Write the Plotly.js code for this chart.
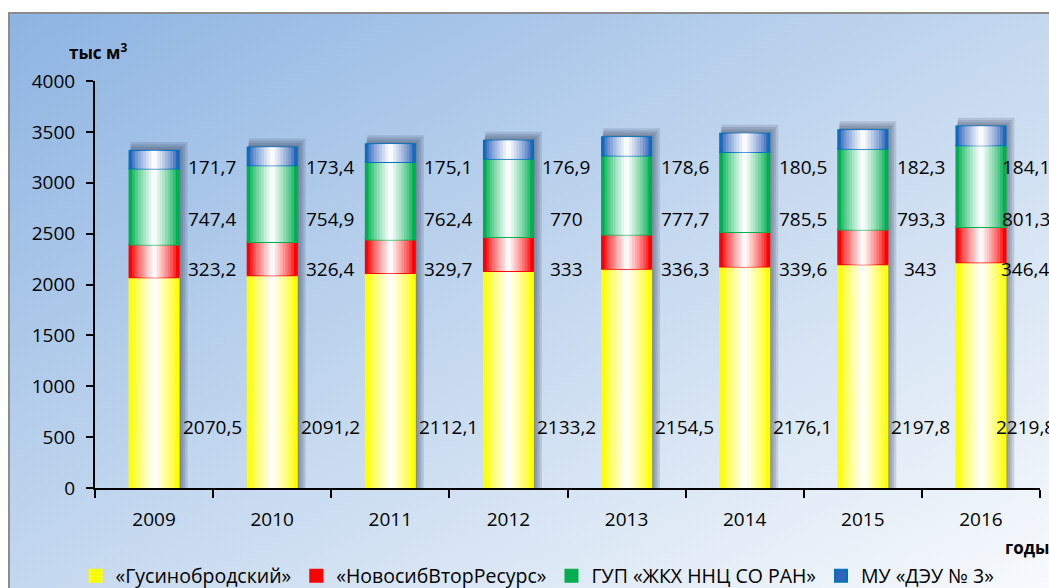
<!DOCTYPE html>
<html>
<head>
<meta charset="utf-8">
<script src="https://cdn.plot.ly/plotly-3.0.1.min.js"></script>
<style>
  html, body { margin: 0; padding: 0; width: 1049px; height: 588px; overflow: hidden; background: #ffffff; }
  #bg { position: absolute; left: 8px; top: 12px; width: 1041px; height: 576px;
        border-left: 2px solid #8c8c8c; border-top: 2px solid #8c8c8c;
        background: linear-gradient(to bottom right, #8db4e2 0%, #c4d8ef 50%, #f8fafd 100%); }
  #chart { position: absolute; left: 0; top: 0; width: 1049px; height: 588px; }
</style>
</head>
<body>
<div id="bg"></div>
<div id="chart"></div>
<script>
// ---- data ----
const years = ['2009', '2010', '2011', '2012', '2013', '2014', '2015', '2016'];
const gusinobrodsky = [2070.5, 2091.2, 2112.1, 2133.2, 2154.5, 2176.1, 2197.8, 2219.8];
const novosibvtor = [323.2, 326.4, 329.7, 333, 336.3, 339.6, 343, 346.4];
const gupZhkh = [747.4, 754.9, 762.4, 770, 777.7, 785.5, 793.3, 801.3];
const muDeu = [171.7, 173.4, 175.1, 176.9, 178.6, 180.5, 182.3, 184.1];
const seriesNames = ['«Гусинобродский»', '«НовосибВторРесурс»', 'ГУП «ЖКХ ННЦ СО РАН»', 'МУ «ДЭУ № 3»'];
const yTicks = [0, 500, 1000, 1500, 2000, 2500, 3000, 3500, 4000];

// ---- style ----
const FONT = '"Open Sans", "Noto Sans", "DejaVu Sans", sans-serif';
const seriesData = [gusinobrodsky, novosibvtor, gupZhkh, muDeu];
const edgeColors = [[255, 255, 0], [255, 0, 0], [0, 176, 80], [46, 100, 186]];
const lineColors = ['#ffff00', '#ff0000', '#00b050', '#0070c0'];
const W = 0.415;
const LAYERS = 9;
const labelRows = [600, 2150, 2640, 3150];

function mix(c, t) {
  const r = Math.round(c[0] + (255 - c[0]) * t);
  const g = Math.round(c[1] + (255 - c[1]) * t);
  const b = Math.round(c[2] + (255 - c[2]) * t);
  return 'rgb(' + r + ',' + g + ',' + b + ')';
}

// cumulative bases
const bases = [];
let run = years.map(() => 0);
seriesData.forEach(s => {
  bases.push(run.slice());
  run = run.map((v, i) => v + s[i]);
});
const totals = run;

const traces = [];
// soft shadow
for (let k = 4; k >= 1; k--) {
  traces.push({
    type: 'bar', x: years, y: totals.map(t => t + 22 * k), base: years.map(() => 0),
    width: W + 0.016 * k, offset: -W / 2 + 0.003 * k,
    marker: { color: 'rgba(50,60,90,0.16)', line: { width: 0 } },
    showlegend: false, hoverinfo: 'skip'
  });
}
seriesData.forEach((s, si) => {
  for (let k = 0; k < LAYERS; k++) {
    const t = k / (LAYERS - 1);
    const w = W * (1 - k / LAYERS);
    traces.push({
      type: 'bar', x: years, y: s, base: bases[si],
      width: w,
      name: seriesNames[si],
      legendgroup: 's' + si,
      showlegend: k === 0,
      marker: {
        color: mix(edgeColors[si], Math.pow(t, 0.8) * 0.97),
        line: k === 0 ? { color: lineColors[si], width: 2 } : { width: 0 }
      },
      hoverinfo: k === 0 ? 'x+y+name' : 'skip'
    });
  }
});

// value labels (x given as category index)
const annotations = [];
seriesData.forEach((s, si) => {
  s.forEach((v, i) => {
    annotations.push({
      x: i, y: labelRows[si], xref: 'x', yref: 'y',
      text: String(v).replace('.', ','), showarrow: false,
      xshift: i === years.length - 1 ? 45 : 58,
      font: { family: FONT, size: 19, color: '#000' }
    });
  });
});
annotations.push({
  xref: 'paper', yref: 'paper', x: 0.003, y: 1.072, xanchor: 'center', yanchor: 'middle',
  text: '<b>тыс м<sup>3</sup></b>', showarrow: false,
  font: { family: FONT, size: 17, color: '#000' }
});
annotations.push({
  xref: 'paper', yref: 'paper', x: 0.961, y: -0.147, xanchor: 'left', yanchor: 'middle',
  text: '<b>годы</b>', showarrow: false,
  font: { family: FONT, size: 17, color: '#000' }
});

const layout = {
  width: 1049, height: 588,
  margin: { l: 95, r: 9, t: 81, b: 100 },
  paper_bgcolor: 'rgba(0,0,0,0)', plot_bgcolor: 'rgba(0,0,0,0)',
  barmode: 'overlay',
  font: { family: FONT, size: 19, color: '#000' },
  xaxis: {
    type: 'category', range: [-0.5, 7.5], tickson: 'boundaries',
    showline: true, linecolor: '#000', linewidth: 2,
    ticks: 'outside', ticklen: 8, tickwidth: 2, tickcolor: '#000',
    ticklabelstandoff: 13,
    showgrid: false, zeroline: false,
    tickfont: { family: FONT, size: 19, color: '#000' }
  },
  yaxis: {
    range: [0, 4000], tickvals: yTicks, ticktext: yTicks.map(String),
    showline: true, linecolor: '#000', linewidth: 2,
    ticks: 'outside', ticklen: 7, tickwidth: 2, tickcolor: '#000',
    ticklabelstandoff: 7,
    showgrid: false, zeroline: false,
    tickfont: { family: FONT, size: 19, color: '#000' }
  },
  showlegend: true,
  legend: {
    orientation: 'h', xref: 'container', yref: 'container',
    x: 0.072, y: 0.0204, xanchor: 'left', yanchor: 'middle',
    bgcolor: 'rgba(0,0,0,0)', font: { family: FONT, size: 19.5, color: '#000' },
    itemwidth: 30, tracegroupgap: 0
  },
  annotations: annotations
};

Plotly.newPlot('chart', traces, layout, { displayModeBar: false, staticPlot: true });
</script>
</body>
</html>
